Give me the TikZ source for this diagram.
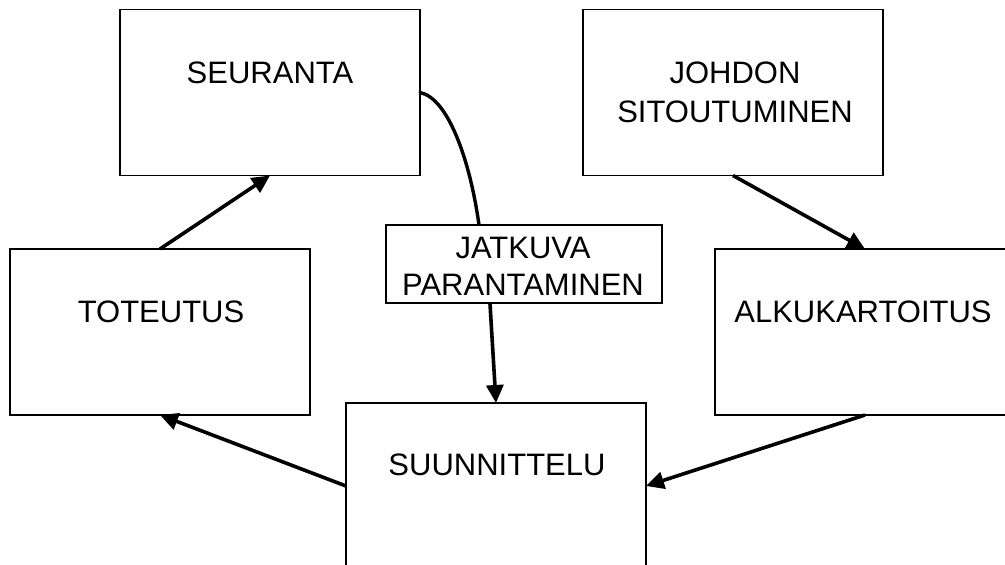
\documentclass[tikz,border=0pt]{standalone}
\usepackage{fontspec}
\setmainfont{Liberation Sans}
\usetikzlibrary{arrows.meta,calc}
\begin{document}
\begin{tikzpicture}[x=1pt,y=-1pt,
  box/.style={draw,line width=1.8pt,minimum width=300pt,minimum height=166pt,inner sep=0pt,outer sep=0pt},
  txt/.style={anchor=base,inner sep=0pt,font=\fontsize{31}{38}\selectfont},
  conn/.style={line width=3.6pt,-{Triangle[length=18pt,width=17pt]}}]
\useasboundingbox (0,0) rectangle (1005,565);
\clip (0,0) rectangle (1005,565);
\node[box,fill=white] (seur) at (270,92.5) {};
\node[box,fill=white] (johd) at (733,92.5) {};
\node[box,fill=white] (tot) at (160,332) {};
\node[box,fill=white] (alku) at (865,332) {};
\node[box,fill=white] (suun) at (496,486) {};
\node[txt] (tseur) at (270,83) {SEURANTA};
\node[txt] (tjohd1) at (735,83) {JOHDON};
\node[txt] (tjohd2) at (735,122) {SITOUTUMINEN};
\node[txt] (ttot) at (161,322) {TOTEUTUS};
\node[txt] (talku) at (863,322) {ALKUKARTOITUS};
\node[txt] (tsuun) at (497,475) {SUUNNITTELU};
% curve from SEURANTA to JATKUVA box
\coordinate (jtop) at (479,225);
\draw[line width=3.4pt,line cap=round] (seur.east) .. controls (448,98) and (470,160) .. (jtop);
\node[draw,fill=white,line width=1.8pt,minimum width=276pt,minimum height=78pt,inner sep=0pt] (jat) at (524,264) {};
\node[txt] (tjat1) at (523,258) {JATKUVA};
\node[txt] (tjat2) at (523,295) {PARANTAMINEN};
\draw[conn] ($(jat.south)+(-34,0)$) -- (suun.north);
\draw[conn] (tot.north) -- (seur.south);
\draw[conn] (johd.south) -- (alku.north);
\draw[conn] (alku.south) -- (suun.east);
\draw[conn] (suun.west) -- (tot.south);
\end{tikzpicture}
\end{document}
